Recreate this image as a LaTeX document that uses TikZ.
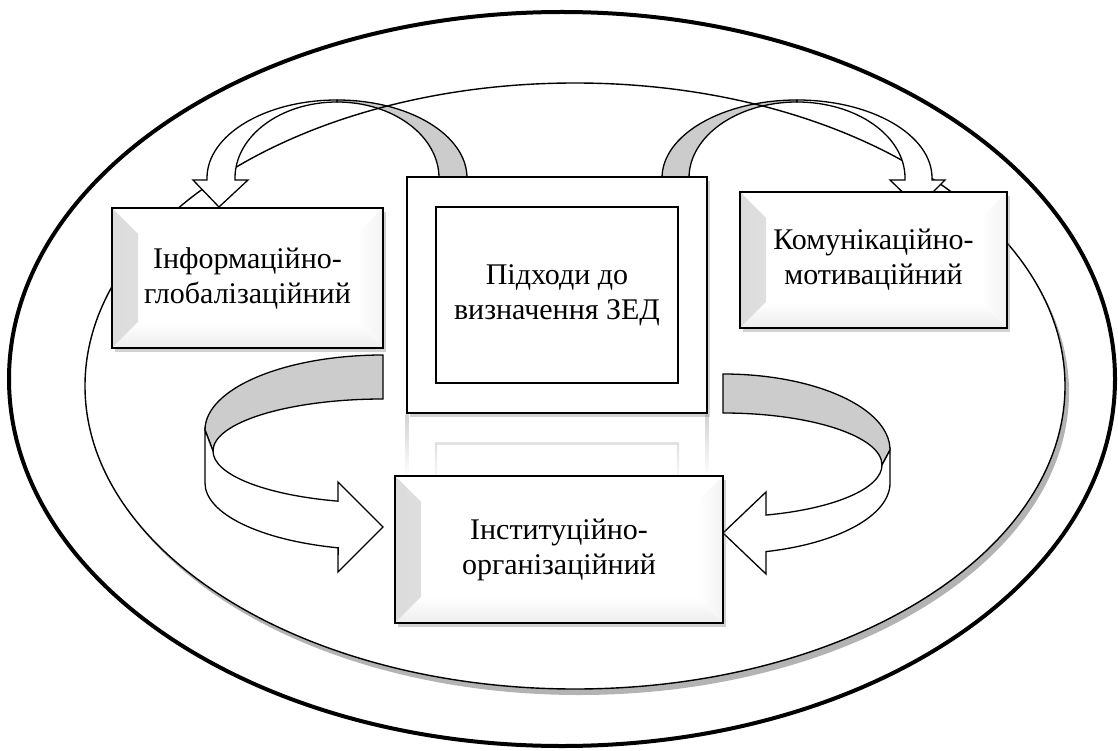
\documentclass[tikz,border=0pt]{standalone}
\usepackage{fontspec}
\setmainfont{Liberation Serif}
\usepackage{tikz}
\usetikzlibrary{shadows}
\usetikzlibrary{positioning}
\usetikzlibrary{calc}

\tikzset{
    boxfont/.style={font=\fontsize{30}{35}\selectfont},
    bevelbox/.style={draw, line width=1.8pt, fill=white, align=center, boxfont,
        drop shadow={shadow xshift=3pt, shadow yshift=-4pt, opacity=0.35},
        path picture={
            \shade[left color=gray!28, right color=white]
                (path picture bounding box.north west) -- (path picture bounding box.south west)
                -- ([shift={(26pt,26pt)}]path picture bounding box.south west)
                -- ([shift={(26pt,-26pt)}]path picture bounding box.north west) -- cycle;
            \shade[bottom color=gray!14, top color=white]
                (path picture bounding box.south west) -- (path picture bounding box.south east)
                -- ([shift={(-26pt,26pt)}]path picture bounding box.south east)
                -- ([shift={(26pt,26pt)}]path picture bounding box.south west) -- cycle;
            \shade[right color=gray!10, left color=white]
                (path picture bounding box.south east) -- (path picture bounding box.north east)
                -- ([shift={(-26pt,-26pt)}]path picture bounding box.north east)
                -- ([shift={(-26pt,26pt)}]path picture bounding box.south east) -- cycle;
        }},
    framebox/.style={draw, line width=2.6pt, fill=white,
        drop shadow={shadow xshift=3pt, shadow yshift=-4pt, opacity=0.35}},
    corebox/.style={draw, line width=2.6pt, fill=white, align=center, boxfont},
    band/.style={draw, line width=1.3pt, line join=miter},
    backband/.style={band, fill=gray!40},
    frontband/.style={band, fill=white},
}

\begin{document}
\begin{tikzpicture}[x=1pt, y=-1pt]
    \useasboundingbox (0,0) rectangle (1118,751);

    % ellipses
    \draw[line width=4pt] (562,379) ellipse [x radius=553, y radius=367];
    \fill[white, drop shadow={shadow xshift=4pt, shadow yshift=-6pt, opacity=0.6}]
        (575,386) ellipse [x radius=490, y radius=303];

    % back sides of the curved arrows
    \draw[backband] (467,181) -- (467,178) arc[start angle=0, end angle=-90, x radius=130, y radius=78]
        -- (337,102) arc[start angle=-90, end angle=0, x radius=102, y radius=76] -- (439,181) -- cycle;
    \draw[backband] (662,181) -- (662,178) arc[start angle=180, end angle=270, x radius=135, y radius=78]
        -- (797,102) arc[start angle=270, end angle=180, x radius=108, y radius=76] -- (689,181) -- cycle;
    \draw[backband] (383,355) arc[start angle=-90, end angle=-180, x radius=178, y radius=75]
        -- (213,451) arc[start angle=180, end angle=270, x radius=170, y radius=52] -- cycle;
    \draw[backband] (723,374) arc[start angle=-90, end angle=0, x radius=167, y radius=76]
        -- (882,465) arc[start angle=0, end angle=-90, x radius=159, y radius=52] -- cycle;

    \draw[line width=1.4pt] (575,386) ellipse [x radius=490, y radius=303];

    % front sides with the heads
    \draw[frontband] (337,100) arc[start angle=-90, end angle=-180, x radius=130, y radius=78]
        -- (207,180) -- (193,180) -- (219,207) -- (248,180) -- (235,180) -- (235,178)
        arc[start angle=180, end angle=270, x radius=102, y radius=76] -- cycle;
    \draw[frontband] (797,100) arc[start angle=-90, end angle=0, x radius=135, y radius=78]
        -- (932,180) -- (945,180) -- (918,207) -- (890,180) -- (905,180) -- (905,178)
        arc[start angle=0, end angle=-90, x radius=108, y radius=76] -- cycle;
    \draw[frontband] (205,430) -- (205,483) arc[start angle=180, end angle=104.6, x radius=178, y radius=67]
        -- (338,572) -- (383,527) -- (338,482) -- ($(383,451)+(105.35:170 and 52)$)
        arc[start angle=105.35, end angle=180, x radius=170, y radius=52] -- cycle;
    \draw[frontband] (890,450) -- (890,483) arc[start angle=0, end angle=75.08, x radius=167, y radius=71]
        -- (766,574) -- (723,533) -- (766,492) -- ($(723,465)+(74.31:159 and 52)$)
        arc[start angle=74.31, end angle=0, x radius=159, y radius=52] -- cycle;

    % reflection of the centre frame
    \foreach \x in {407,707}
        \shade[top color=gray!35, bottom color=white] (\x-1.3,414) rectangle (\x+1.3,476);
    \fill[gray!22] (435,442) rectangle (679,445);
    \foreach \x in {436,678}
        \shade[top color=gray!25, bottom color=gray!5] (\x-1.2,443) rectangle (\x+1.2,476);

    % boxes
    \node[framebox, minimum width=300pt, minimum height=236pt] (frame) at (557,295) {};
    \node[corebox, minimum width=242pt, minimum height=176pt] (core) at (frame.center) {Підходи до\\визначення ЗЕД};
    \node[bevelbox, minimum width=271pt, minimum height=140pt] (info) at (247.5,278) {Інформаційно-\\глобалізаційний};
    \node[bevelbox, minimum width=267pt, minimum height=136pt] (comm) at (873.5,260) {Комунікаційно-\\мотиваційний};
    \node[bevelbox, minimum width=328pt, minimum height=147pt] (inst) at (559,549.5) {Інституційно-\\організаційний};
\end{tikzpicture}
\end{document}
